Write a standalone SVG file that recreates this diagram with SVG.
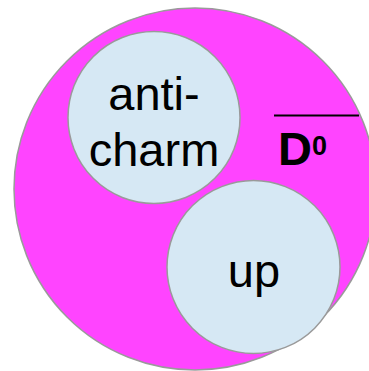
<svg xmlns="http://www.w3.org/2000/svg" width="369" height="371" viewBox="0 0 369 371">
  <style>
    .ring { stroke: #9a9a9a; stroke-width: 1.5; }
    .outer { fill: #ff44ff; }
    .quark { fill: #d6e8f4; }
    .lbl { font-family: "Liberation Sans", Arial, sans-serif; font-size: 47px; fill: #000; text-anchor: middle; }
    .meson { font-family: "Liberation Sans", Arial, sans-serif; font-weight: bold; fill: #000; }
  </style>
  <g id="d0-meson">
    <circle class="ring outer" cx="195" cy="189" r="181"/>
    <line x1="274" y1="115.5" x2="359" y2="115.5" stroke="#000" stroke-width="2"/>
    <text class="meson" x="278" y="165" font-size="47">D<tspan font-size="27" dy="-10">0</tspan></text>
  </g>
  <g id="anti-charm">
    <circle class="ring quark" cx="154" cy="117.5" r="86"/>
    <text class="lbl" x="154" y="110">anti-</text>
    <text class="lbl" x="154" y="166">charm</text>
  </g>
  <g id="up">
    <circle class="ring quark" cx="253.5" cy="267" r="86.5"/>
    <text class="lbl" x="254" y="287" font-size="46">up</text>
  </g>
</svg>
